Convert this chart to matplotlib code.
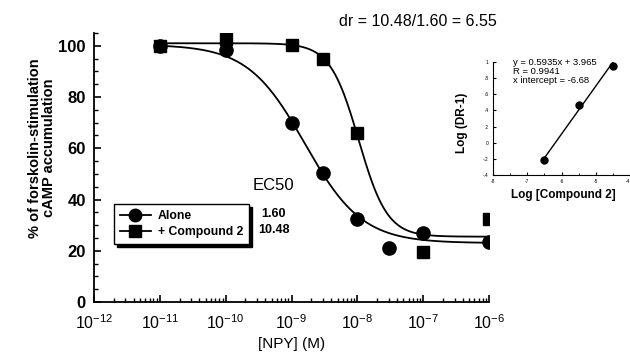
import numpy as np
import matplotlib
matplotlib.use("Agg")
import matplotlib.pyplot as plt
from matplotlib.ticker import LogLocator, MultipleLocator, NullFormatter

plt.rcParams["font.family"] = ["Liberation Sans", "DejaVu Sans"]
plt.rcParams["mathtext.fontset"] = "custom"
plt.rcParams["mathtext.rm"] = "Liberation Sans"
plt.rcParams["mathtext.it"] = "Liberation Sans"
plt.rcParams["mathtext.bf"] = "Liberation Sans:bold"

# main dose-response data
npy_conc = [1e-11, 1e-10, 1e-9, 3e-9, 1e-8, 3e-8, 1e-7, 1e-6]
alone_pct = [100, 98.4, 70, 50.4, 32.4, 21, 27, 23.4]
cmpd_conc = [1e-11, 1e-10, 1e-9, 3e-9, 1e-8, 1e-7, 1e-6]
cmpd_pct = [100, 102.5, 100.4, 95, 66, 19.5, 32.4]

# fitted sigmoid parameters: top, bottom, ec50, hill
alone_fit = (100.5, 23.0, 1.60e-9, 1.0)
cmpd_fit = (101.0, 25.5, 10.48e-9, 2.0)

ec50_labels = ["1.60", "10.48"]
series_names = ["Alone", "+ Compound 2"]

# Schild inset data
log_cmpd = [-7.0, -6.0, -5.0]
log_dr1 = [-0.22, 0.47, 0.95]
slope, intercept = 0.5935, 3.965
inset_yticks = [-0.4, -0.2, 0, 0.2, 0.4, 0.6, 0.8, 1.0]
inset_yticklabels = ["-.4", "-.2", "0", ".2", ".4", ".6", ".8", "1"]
inset_xticks = [-8.5, -7.5, -6.5, -5.5, -4.5]
inset_xticklabels = ["-8", "-7", "-6", "-5", "-4"]

W, H = 630, 363


def fx(x):
    return x / W


def fy(y):
    return 1 - y / H


def sigmoid(x, top, bottom, ec50, hill):
    return bottom + (top - bottom) / (1 + (x / ec50) ** hill)


fig = plt.figure(figsize=(6.3, 3.63), dpi=100)
ax = fig.add_axes([fx(94), fy(302), fx(489 - 94), (302 - 33) / H])

xs = np.logspace(-11, -6, 300)
ax.plot(xs, sigmoid(xs, *alone_fit), color="black", lw=1.3, zorder=2)
ax.plot(xs, sigmoid(xs, *cmpd_fit), color="black", lw=1.3, zorder=2)
ax.plot(npy_conc, alone_pct, "o", color="black", ms=9.5, ls="none", zorder=3)
ax.plot(cmpd_conc, cmpd_pct, "s", color="black", ms=8.5, ls="none", zorder=3)

ax.set_xscale("log")
ax.set_xlim(1e-12, 1e-6)
ax.set_ylim(0, 105)
ax.spines["top"].set_visible(False)
ax.spines["right"].set_visible(False)
ax.spines["left"].set_linewidth(1.3)
ax.spines["bottom"].set_linewidth(1.3)
ax.xaxis.set_minor_locator(LogLocator(base=10, subs=np.arange(2, 10), numticks=10))
ax.xaxis.set_minor_formatter(NullFormatter())
ax.set_xticks([10.0 ** k for k in range(-12, -5)])
ax.set_xticklabels([r"$10^{%d}$" % k for k in range(-12, -5)], fontsize=11.5)
ax.yaxis.set_minor_locator(MultipleLocator(5))
ax.set_yticks([0, 20, 40, 60, 80, 100])
ax.set_yticklabels(["0", "20", "40", "60", "80", "100"], fontsize=12, fontweight="bold")
ax.tick_params(axis="both", which="major", direction="in", length=5, width=1.2, pad=6)
ax.tick_params(axis="both", which="minor", direction="in", length=3, width=1.0)
ax.tick_params(axis="x", pad=8)

ax.set_xlabel("[NPY] (M)", fontsize=11, labelpad=4)
fig.text(fx(42), fy(148), "% of forskolin-stimulation\ncAMP accumulation",
         rotation=90, ha="center", va="center", fontsize=10.5, fontweight="bold",
         linespacing=1.0)

h1, = ax.plot([], [], "o-", color="black", ms=9, lw=1.3)
h2, = ax.plot([], [], "s-", color="black", ms=8, lw=1.3)
leg = ax.legend([h1, h2], series_names, loc="upper left", bbox_to_anchor=(0.035, 0.387),
                frameon=True, fancybox=False,
                shadow={"color": "black", "alpha": 1, "ox": 2, "oy": -2},
                edgecolor="black", framealpha=1, handlelength=2.5, handletextpad=0.6,
                borderpad=0.5, labelspacing=0.3, prop={"weight": "bold", "size": 8.8})
leg.get_frame().set_linewidth(1.0)

fig.text(fx(273), fy(186), "EC50", ha="center", va="center", fontsize=12)
fig.text(fx(273), fy(214), ec50_labels[0], ha="center", va="center", fontsize=9, fontweight="bold")
fig.text(fx(274), fy(230), ec50_labels[1], ha="center", va="center", fontsize=9, fontweight="bold")
fig.text(fx(418), fy(21), "dr = 10.48/1.60 = 6.55", ha="center", va="center", fontsize=11.5)

# inset Schild plot
ins = fig.add_axes([fx(493), fy(175), 1 - fx(493), (175 - 62) / H])
ins.plot(log_cmpd, log_dr1, "o", color="black", ms=5)
lx = np.array([-7.05, -4.95])
ins.plot(lx, slope * lx + intercept, color="black", lw=1.0)
ins.set_xlim(-8.5, -4.5)
ins.set_ylim(-0.4, 1.0)
ins.spines["top"].set_visible(False)
ins.spines["right"].set_visible(False)
ins.set_xticks(inset_xticks)
ins.set_xticklabels(inset_xticklabels, fontsize=3.5)
ins.get_xticklabels()[-1].set_horizontalalignment("right")
ins.xaxis.set_minor_locator(MultipleLocator(1))
ins.set_yticks(inset_yticks)
ins.set_yticklabels(inset_yticklabels, fontsize=3.5)
ins.tick_params(axis="both", which="major", direction="in", length=2.5, width=0.8, pad=3)
ins.tick_params(axis="x", which="minor", direction="in", length=1.5, width=0.6)
fig.text(fx(462), fy(123), "Log (DR-1)", rotation=90, ha="center", va="center",
         fontsize=8.5, fontweight="bold")
fig.text(fx(563), fy(195), "Log [Compound 2]", ha="center", va="center",
         fontsize=8.5, fontweight="bold")
fig.text(fx(513), fy(58), "y = 0.5935x + 3.965\nR = 0.9941\nx intercept = -6.68",
         ha="left", va="top", fontsize=6.8, linespacing=1.0)

fig.savefig("out.png", dpi=100)
